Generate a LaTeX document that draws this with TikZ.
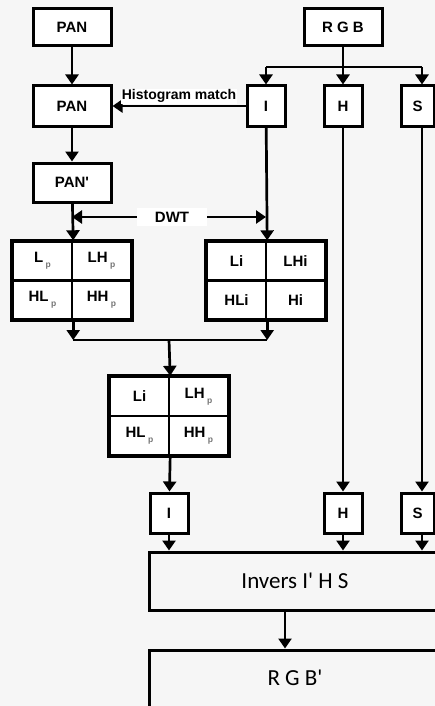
\documentclass[tikz,border=0pt]{standalone}
\usepackage{fontspec}
\setmainfont{Liberation Sans}
\newfontfamily\calfont{Carlito}
\usetikzlibrary{arrows.meta}

% small grey subscript p
\newcommand{\sbp}{\,\raisebox{-0.6ex}{\fontsize{8.5}{9}\selectfont\color{black!55}p}}

\tikzset{
  box/.style={draw, line width=3pt, fill=white, inner sep=0pt,
    minimum width=78pt, minimum height=38pt,
    font=\bfseries\fontsize{15}{16}\selectfont},
  chan/.style={box, minimum width=38pt, minimum height=40pt},
  cell/.style={draw, line width=2.4pt, fill=white, inner sep=0pt,
    minimum width=59pt, minimum height=39pt,
    font=\bfseries\fontsize{15}{16}\selectfont},
  big/.style={draw, line width=3pt, inner sep=0pt,
    minimum width=292pt, font=\calfont\fontsize{23}{24}\selectfont},
  ln/.style={line width=2.7pt},
  arr/.style={ln, -{Triangle[length=10pt,width=13pt]}},
}

\begin{document}
\begin{tikzpicture}[x=1pt,y=-1pt]
    \clip (0,0) rectangle (435,706);
    \fill[gray!7] (0,0) rectangle (435,706);

    % inputs
    \node[box, minimum height=37pt] (pan) at (72,27.5) {PAN};
    \node[box, minimum height=37pt] (rgb) at (343,27.5) {R G B};
    \node[box, minimum height=40pt] (pan2) at (72,106) {PAN};
    \node[chan] (i1) at (266,106) {I};
    \node[chan] (h1) at (343,106) {H};
    \node[chan, minimum width=33pt] (s1) at (417.5,106) {S};
    \node[box, minimum height=39pt] (panp) at (72,182.5) {PAN\textquotesingle};
    \coordinate (fork) at (343,67);
    \coordinate (scol) at (422,0);

    % wavelet bands
    \node[cell] (lp)  at (42.5,261) {L\sbp};
    \node[cell] (lhp) at (101.5,261) {LH\sbp};
    \node[cell] (hlp) at (42.5,300) {HL\sbp};
    \node[cell] (hhp) at (101.5,300) {HH\sbp};
    \node[cell] (li)  at (236.5,261) {Li};
    \node[cell] (lhi) at (295.5,261) {LHi};
    \node[cell] (hli) at (236.5,300) {HLi};
    \node[cell] (hi)  at (295.5,300) {Hi};
    \coordinate (merge) at (169,340);
    \node[cell] (mli)  at (139.5,396.5) {Li};
    \node[cell] (mlhp) at (198.5,396.5) {LH\sbp};
    \node[cell] (mhlp) at (139.5,435.5) {HL\sbp};
    \node[cell] (mhhp) at (198.5,435.5) {HH\sbp};
    \foreach \a/\b in {lp/hhp, li/hi, mli/mhhp}
      \draw[line width=3.2pt] (\a.north west) rectangle (\b.south east);

    % new I, H, S and back to RGB
    \node[chan] (i2) at (169,513) {I};
    \node[chan] (h2) at (343,513) {H};
    \node[chan, minimum width=33pt] (s2) at (417.5,513) {S};
    \node[big, minimum height=58pt] (inv) at (295,581) {Invers I\textquotesingle\ H S};
    \node[big, minimum height=62pt] (rgb2) at (295,681) {\raisebox{6pt}{R G B\textquotesingle}};

    % connections
    \draw[arr] (pan) -- (pan2);
    \draw[arr] (pan2) -- (panp);
    \draw[ln] (rgb) -- (fork);
    \draw[ln] (fork -| i1) -- (fork -| scol);
    \draw[arr] (fork -| i1) -- (i1);
    \draw[arr] (fork) -- (h1);
    \draw[arr] (fork -| scol) -- (s1.north -| scol);
    \draw[arr] (i1) -- node[above=1pt, fill=white, inner sep=1pt,
      font=\bfseries\fontsize{14}{15}\selectfont] {Histogram match} (pan2);

    \node[fill=white, inner xsep=18pt, inner ysep=4pt,
      font=\bfseries\fontsize{15}{16}\selectfont] (dwt) at (172,217) {DWT};
    \draw[arr] (dwt) -- (dwt -| panp);
    \draw[arr] (dwt) -- (dwt -| i1);
    \draw[arr] (panp) -- (lp.north east);
    \draw[arr] (i1) -- (li.north east);

    \draw[arr] (hlp.south east) -- (hlp.south east |- merge);
    \draw[arr] (hli.south east) -- (hli.south east |- merge);
    \draw[ln] (hlp.south east |- merge) -- (hli.south east |- merge);
    \draw[arr] (merge) -- (mli.north east);
    \draw[arr] (mhlp.south east) -- (i2);

    \draw[arr] (h1) -- (h2);
    \draw[arr] (s1.south -| scol) -- (s2.north -| scol);
    \draw[arr] (i2) -- (inv.north -| i2);
    \draw[arr] (h2) -- (inv.north -| h2);
    \draw[arr] (s2.south -| scol) -- (inv.north -| scol);
    \draw[arr] ([xshift=-10pt]inv.south) -- ([xshift=-10pt]rgb2.north);
\end{tikzpicture}
\end{document}
